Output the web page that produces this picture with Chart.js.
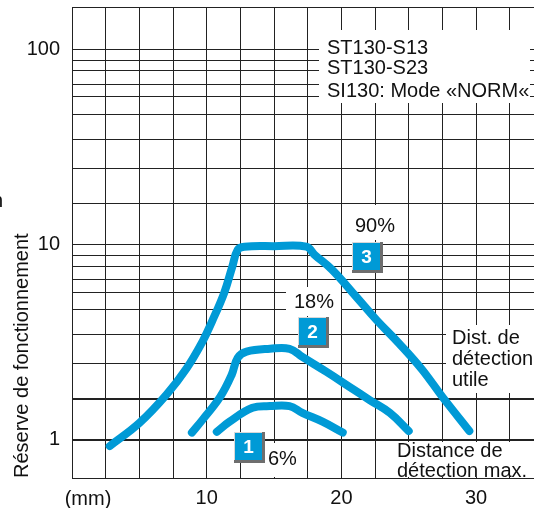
<!DOCTYPE html>
<html>
<head>
<meta charset="utf-8">
<script src="https://cdn.jsdelivr.net/npm/chart.js@4/dist/chart.umd.min.js"></script>
<style>
  html, body { margin: 0; padding: 0; background: #fff; }
  #wrap { width: 534px; height: 508px; position: relative; }
</style>
</head>
<body>
<div id="wrap"><canvas id="chart"></canvas></div>
<script>
// grid positions (mm and Réserve)
const xTicks = [0, 2.5, 5, 7.5, 10, 12.5, 15, 17.5, 20, 22.5, 25, 27.5, 30, 32.5];
const xLabels = [10, 20, 30];
const yGrid = [0.638, 1, 1.62, 2.47, 3.455, 4.64, 5.71, 6.64, 7.77, 8.81,
               10, 16.2, 24.7, 34.5, 46.4, 57.1, 66.4, 77.7, 88.1, 100, 165];
const yLabels = [1, 10, 100];
const yThick = [1, 1.62];
const Y_MIN = 0.638, Y_MAX = 165;

// curves
const curve1Mm  = [10.75, 11.7, 13.4, 14.7, 16.15, 17.1, 18.6, 20.1];
const curve1Val = [1.10, 1.24, 1.46, 1.49, 1.49, 1.375, 1.24, 1.09];
const curve2Mm  = [8.9, 9.7, 11.0, 11.85, 12.3, 12.96, 14.7, 16.15, 17.1, 18.9, 20.6, 22.1, 23.6, 25.0];
const curve2Val = [1.09, 1.27, 1.66, 2.15, 2.63, 2.83, 2.93, 2.93, 2.66, 2.23, 1.87, 1.60, 1.375, 1.11];
const curve3Mm  = [2.8, 5.0, 7.0, 8.5, 9.7, 10.4, 11.3, 11.9, 12.3, 12.8, 15.0, 17.4, 18.0, 19.3, 21.1, 22.6, 24.3, 26.0, 27.5, 29.5];
const curve3Val = [0.93, 1.22, 1.70, 2.32, 3.20, 4.05, 5.67, 7.71, 9.42, 9.77, 9.83, 9.77, 8.89, 7.45, 5.41, 4.12, 3.11, 2.29, 1.66, 1.11];

const legendLines = ['ST130-S13', 'ST130-S23', 'SI130: Mode «NORM«'];
const BLUE = '#009ad6';
const FONT = '"Liberation Sans", Arial, sans-serif';

const pts = (xs, ys) => xs.map((x, i) => ({ x: x, y: ys[i] }));

function curve(label, xs, ys) {
    return {
        label: label,
        data: pts(xs, ys),
        borderColor: BLUE,
        borderWidth: 8,
        borderCapStyle: 'round',
        borderJoinStyle: 'round',
        pointRadius: 0,
        tension: 0.4,
        fill: false
    };
}

function badge(ctx, x, y, n) {
    ctx.fillStyle = '#6e6e6e';
    ctx.fillRect(x - 1, y - 1, 31, 31);
    ctx.fillStyle = '#d8d8d8';
    ctx.fillRect(x - 1, y - 1, 28, 28);
    ctx.fillStyle = BLUE;
    ctx.fillRect(x, y, 27, 27);
    ctx.fillStyle = '#fff';
    ctx.font = 'bold 19px ' + FONT;
    ctx.textAlign = 'center';
    ctx.textBaseline = 'middle';
    ctx.fillText(n, x + 13.5, y + 14.5);
}

const overlay = {
    id: 'overlay',
    beforeDatasetsDraw(chart) {
        const ctx = chart.ctx;
        ctx.save();
        ctx.fillStyle = '#fff';
        ctx.fillRect(319, 30, 211, 73);   // legend
        ctx.fillRect(350, 205, 50, 35);   // 90%
        ctx.fillRect(286, 287, 55, 29);   // 18%
        ctx.fillRect(266, 443, 37, 34);   // 6%
        ctx.fillRect(446, 325, 88, 68);   // Dist. de détection utile
        ctx.fillRect(395, 442, 139, 35);  // Distance de détection max.
        ctx.restore();
    },
    afterDraw(chart) {
        const ctx = chart.ctx;
        ctx.save();
        ctx.fillStyle = '#111';
        ctx.font = '20px ' + FONT;
        ctx.textBaseline = 'alphabetic';
        ctx.textAlign = 'left';
        legendLines.forEach((t, i) => ctx.fillText(t, 327, [54, 74, 97][i]));
        ctx.fillText('Dist. de', 452, 344);
        ctx.fillText('détection', 452, 365);
        ctx.fillText('utile', 452, 386);
        ctx.fillText('Distance de', 397, 457);
        ctx.fillText('détection max.', 397, 477);
        ctx.fillText('6%', 268, 465);
        ctx.textAlign = 'center';
        ctx.fillText('90%', 375, 232);
        ctx.fillText('18%', 314, 308);
        ctx.fillText('(mm)', 88, 505);
        ctx.textAlign = 'left';
        ctx.fillText('n', -8, 207);
        // y axis title
        ctx.save();
        ctx.translate(27.5, 478);
        ctx.rotate(-Math.PI / 2);
        ctx.fillText('Réserve de fonctionnement', 0, 0);
        ctx.restore();
        badge(ctx, 353, 243, '3');
        badge(ctx, 299, 318, '2');
        badge(ctx, 235, 433, '1');
        ctx.restore();
    }
};

new Chart(document.getElementById('chart'), {
    type: 'line',
    data: {
        datasets: [
            curve('6%', curve1Mm, curve1Val),
            curve('18%', curve2Mm, curve2Val),
            curve('90%', curve3Mm, curve3Val)
        ]
    },
    options: {
        responsive: true,
        maintainAspectRatio: false,
        animation: false,
        layout: { padding: { top: 7, right: 0, left: 0, bottom: 0 } },
        plugins: { legend: { display: false }, tooltip: { enabled: false } },
        scales: {
            x: {
                type: 'linear',
                min: 0,
                max: 34.3,
                afterBuildTicks: (s) => { s.ticks = xTicks.map(v => ({ value: v })); },
                afterFit: (s) => { s.height = 30; s.paddingLeft = 0; s.paddingRight = 0; },
                border: { display: false },
                grid: { color: '#222', lineWidth: 1, drawTicks: false },
                ticks: {
                    autoSkip: false,
                    maxRotation: 0,
                    padding: 0,
                    color: '#111',
                    font: { size: 20, family: FONT, lineHeight: 2 },
                    callback: (v) => xLabels.includes(v) ? String(v) : ''
                }
            },
            y: {
                type: 'logarithmic',
                bounds: 'data',
                min: Y_MIN,
                max: Y_MAX,
                afterBuildTicks: (s) => {
                    s.ticks = yGrid.map(v => ({ value: v }));
                    s.min = Y_MIN;
                    s.max = Y_MAX;
                },
                afterFit: (s) => { s.width = 72; s.paddingTop = 0; s.paddingBottom = 0; },
                border: { display: false },
                grid: {
                    color: '#222',
                    drawTicks: false,
                    lineWidth: (c) => (c.tick && yThick.includes(c.tick.value)) ? 2 : 1
                },
                ticks: {
                    autoSkip: false,
                    padding: 12,
                    color: '#111',
                    font: { size: 20, family: FONT },
                    callback: (v) => yLabels.includes(v) ? String(v) : ''
                }
            }
        }
    },
    plugins: [overlay]
});
</script>
</body>
</html>
